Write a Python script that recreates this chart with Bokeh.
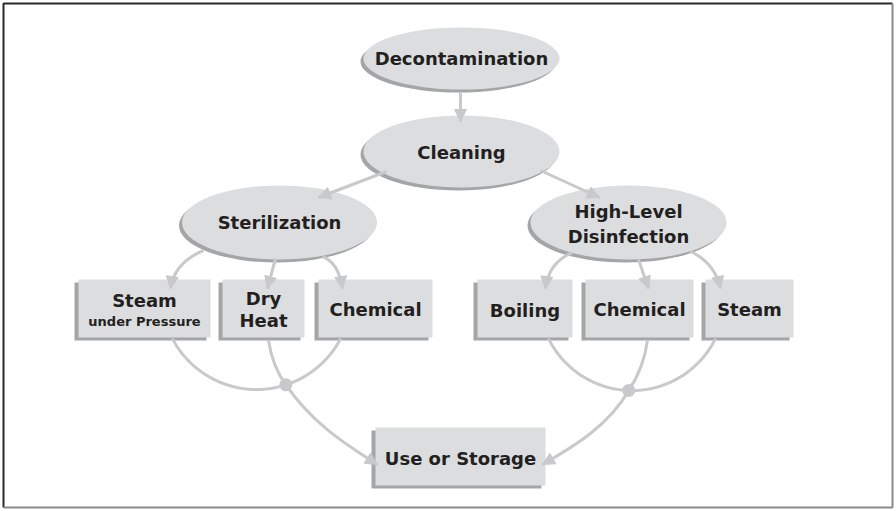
import numpy as np
from bokeh.plotting import figure
from bokeh.models import Range1d, Arrow, NormalHead, ColumnDataSource
from bokeh.core.properties import value
from bokeh.embed import file_html
from bokeh.resources import INLINE

# ---- content ----
ellipse_labels = ["Decontamination", "Cleaning", "Sterilization", "High-Level", "Disinfection"]
box_labels = ["Steam", "under Pressure", "Dry", "Heat", "Chemical", "Boiling", "Chemical", "Steam", "Use or Storage"]

# ---- layout (pixel coordinates, y grows downwards) ----
ell_x = [461, 461, 279, 628]
ell_y = [58, 151, 222, 222]
ell_w = [196, 196, 195, 196]
ell_h = [62, 72, 74, 74]

box_x = [144, 263, 375, 524.5, 639, 749, 460]
box_y = [308, 308, 308, 308, 308, 308, 456]
box_w = [132, 82, 114, 95, 108, 88, 170]
box_h = [58, 58, 58, 58, 58, 58, 58]

ell_text_x = [461, 461, 279, 628, 628]
ell_text_y = [58, 152, 222, 211, 236]
box_text_x = [144, 144, 263, 263, 375, 524.5, 639, 749, 460]
box_text_y = [300, 321, 298, 320, 309, 310, 309, 309, 458]
box_text_size = ["18px", "13px", "18px", "18px", "18px", "18px", "18px", "18px", "18px"]

FACE = "#dcdddf"
SHADOW = "#a4a5a7"
LINE = "#c8c9cb"
TEXT = "#231f20"
FONT = value("DejaVu Sans")

W, H = 894, 509
p = figure(width=W, height=H, x_range=Range1d(0, W), y_range=Range1d(H, 0),
           output_backend="svg", toolbar_location=None,
           x_axis_location=None, y_axis_location=None, min_border=0)
p.grid.visible = False
p.outline_line_color = None
p.background_fill_color = "white"

# border
p.line([3, 3, 892], [507, 3, 3], line_color="#2a2a2a", line_width=2)
p.line([892, 892, 3], [3, 507, 507], line_color="#8a8a8a", line_width=2)

# ellipses with shadow
p.ellipse(x=[x - 3 for x in ell_x], y=[y + 3 for y in ell_y], width=ell_w, height=ell_h,
          fill_color=SHADOW, line_color=None)
p.ellipse(x=ell_x, y=ell_y, width=ell_w, height=ell_h, fill_color=FACE, line_color=None)

# boxes with shadow
p.rect(x=[x - 4 for x in box_x], y=[y + 3 for y in box_y], width=box_w, height=box_h,
       fill_color=SHADOW, line_color=None)
p.rect(x=box_x, y=box_y, width=box_w, height=box_h, fill_color=FACE, line_color=None)

LW = 3

def head(x0, y0, x1, y1):
    v = np.array([x1 - x0, y1 - y0], dtype=float)
    v /= np.linalg.norm(v)
    p.add_layout(Arrow(end=NormalHead(size=12, fill_color=LINE, line_color=LINE),
                       x_start=x1 - 6 * v[0], y_start=y1 - 6 * v[1], x_end=x1, y_end=y1,
                       line_color=LINE, line_width=LW))

# straight arrows
straight = [((460, 92), (460, 121)), ((386, 171), (318, 197)), ((540, 170), (599, 197)),
            ((275, 258), (267, 288)), ((638, 259), (648, 288))]
for (x0, y0), (x1, y1) in straight:
    p.line([x0, x1], [y0, y1], line_color=LINE, line_width=LW)
    head(x0, y0, x1, y1)

# curved arrows (quadratic)
quads = [((203, 250), (174, 262), (170, 288)), ((322, 256), (338, 262), (342, 288)),
         ((572, 252), (548, 262), (545, 288)), ((690, 251), (714, 262), (720, 288))]
for s, c, e in quads:
    p.quadratic(x0=[s[0]], y0=[s[1]], x1=[e[0]], y1=[e[1]], cx=[c[0]], cy=[c[1]],
                line_color=LINE, line_width=LW)
    head(c[0], c[1], e[0], e[1])

# bottom arcs
def arc(cx, cy, r, a0, a1):
    t = np.radians(np.linspace(a0, a1, 80))
    p.line(cx + r * np.cos(t), cy + r * np.sin(t), line_color=LINE, line_width=LW)

arc(256, 294, 95, 27.6, 152.4)
arc(631.5, 297, 93, 26.2, 153.8)

jl = (256 + 95 * np.cos(np.radians(72)), 294 + 95 * np.sin(np.radians(72)))
jr = (631.5 + 93 * np.cos(np.radians(92)), 297 + 93 * np.sin(np.radians(92)))

p.quadratic(x0=[268], y0=[340], x1=[jl[0]], y1=[jl[1]], cx=[272], cy=[366], line_color=LINE, line_width=LW)
p.quadratic(x0=[647], y0=[340], x1=[jr[0]], y1=[jr[1]], cx=[643], cy=[368], line_color=LINE, line_width=LW)

p.bezier(x0=[jl[0]], y0=[jl[1]], x1=[377], y1=[464], cx0=[310], cy0=[420], cx1=[340], cy1=[441],
         line_color=LINE, line_width=LW)
head(340, 441, 377, 464)
p.bezier(x0=[jr[0]], y0=[jr[1]], x1=[542], y1=[464], cx0=[608], cy0=[425], cx1=[575], cy1=[445],
         line_color=LINE, line_width=LW)
head(575, 445, 542, 464)

p.scatter(x=[jl[0], jr[0]], y=[jl[1], jr[1]], size=13, marker="circle", fill_color=LINE, line_color=None)

# texts
p.text(x=ell_text_x, y=ell_text_y, text=ellipse_labels, text_font=FONT, text_font_style="bold",
       text_font_size="18px", text_align="center", text_baseline="middle", text_color=TEXT)
src = ColumnDataSource(dict(x=box_text_x, y=box_text_y, t=box_labels, s=box_text_size))
p.text(x="x", y="y", text="t", text_font_size="s", source=src, text_font=FONT, text_font_style="bold",
       text_align="center", text_baseline="middle", text_color=TEXT)

open("out.html", "w").write(file_html(p, INLINE))
